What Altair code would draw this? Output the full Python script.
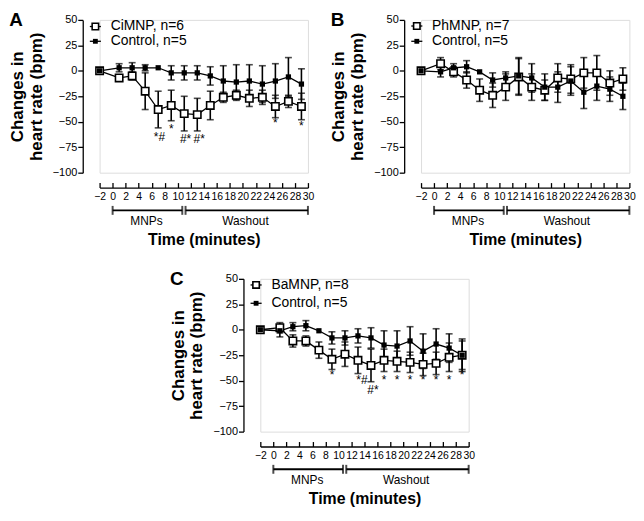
import altair as alt
import pandas as pd

FONT = "Liberation Sans"

TIME = [-2, 1, 3, 5, 7, 9, 11, 13, 15, 17, 19, 21, 23, 25, 27, 29]
X_TICKS = list(range(-2, 31, 2))
Y_TICKS = [-100, -75, -50, -25, 0, 25, 50]

CTRL_LABEL = "Control, n=5"

# Panel A
A_TREAT_LABEL = "CiMNP, n=6"
A_TREAT = [0, -7, -5, -20, -38, -34, -42, -43, -34, -26, -24, -27, -26, -35, -30, -35]
A_TREAT_ERR = [0, 3, 4, 18, 18, 15, 17, 16, 14, 5, 5, 8, 7, 11, 6, 13]
A_CTRL = [0, 3, 3, 3, 3, -2, -2, -2, -5, -10, -11, -10, -13, -10, -6, -13]
A_CTRL_ERR = [0, 4, 5, 3, 0, 7, 7, 7, 9, 15, 17, 16, 18, 17, 19, 15]
A_ANN_X = [7.2, 9, 11.2, 13.3, 25, 29]
A_ANN_Y = [-65, -57, -67, -67, -51, -54]
A_ANN_T = ["*#", "*", "#*", "#*", "*", "*"]
A_LEGEND_Y = [43.5, 29]

# Panel B
B_TREAT_LABEL = "PhMNP, n=7"
B_TREAT = [0, 7, -1, -9, -19, -24, -16, -6, -16, -19, -7, -8, -2, -2, -12, -8]
B_TREAT_ERR = [0, 6, 5, 8, 11, 12, 13, 18, 13, 10, 14, 14, 15, 17, 12, 11]
B_CTRL = [0, -1, 3, 4, -1, -9, -7, -5, -7, -16, -16, -10, -21, -15, -18, -25]
B_CTRL_ERR = [0, 5, 4, 6, 0, 7, 6, 18, 14, 13, 15, 14, 16, 14, 12, 13]
B_ANN_X = []
B_ANN_Y = []
B_ANN_T = []
B_LEGEND_Y = [44, 29]

# Panel C
C_TREAT_LABEL = "BaMNP, n=8"
C_TREAT = [0, 2, -11, -11, -20, -29, -24, -30, -35, -30, -31, -32, -34, -33, -27, -25]
C_TREAT_ERR = [0, 5, 6, 5, 8, 10, 12, 13, 16, 11, 10, 10, 11, 11, 14, 14]
C_CTRL = [0, -1, 3, 4, -1, -8, -8, -6, -8, -15, -16, -11, -21, -14, -18, -25]
C_CTRL_ERR = [0, 6, 4, 5, 0, 6, 7, 7, 10, 14, 15, 14, 17, 15, 14, 16]
C_ANN_X = [9, 13.6, 15.3, 17, 19, 21, 23, 25, 27, 29]
C_ANN_Y = [-44, -49, -59, -49, -49, -49, -49, -49, -49, -44]
C_ANN_T = ["*", "*#", "#*", "*", "*", "*", "*", "*", "*", "*"]
C_LEGEND_Y = [44, 26]

# Phase brackets below the time axis
PHASE_NAMES = ["MNPs", "Washout"]
PHASE_START = [0, 11.2]
PHASE_END = [10.7, 30]
PHASE_TEXT_X = [5.2, 20.4]
PHASE_BAR_Y = -137
PHASE_TEXT_Y = -147.7

# Legend glyph positions (data units)
LEG_LINE_X = [-3.5, -1.8]
LEG_SQ_X = -2.65
LEG_TEXT_X = -0.3

W, H = 210, 154

XSCALE = alt.Scale(domain=[-2, 30], nice=False, zero=False)
YSCALE = alt.Scale(domain=[-100, 50], nice=False, zero=False)

XAXIS = alt.Axis(
    values=X_TICKS, offset=15, tickSize=alt.ExprRef(expr="-5"), labelPadding=9,
    labelFontSize=10.5, labelFont=FONT, labelColor="black", labelFlush=False,
    labelOverlap=False, domainColor="black", tickColor="black", domainWidth=1.3,
    tickWidth=1.3, grid=False, title="Time (minutes)", titleFont=FONT,
    titleFontSize=16, titleFontWeight="bold", titleColor="black", titlePadding=30,
)
YAXIS = alt.Axis(
    values=Y_TICKS, offset=17, tickSize=5, labelPadding=1, labelFontSize=11, labelFont=FONT,
    labelColor="black", domainColor="black", tickColor="black", domainWidth=1.3,
    tickWidth=1.3, grid=False, title=["Changes in", "heart rate (bpm)"],
    titleFont=FONT, titleFontSize=17, titleFontWeight="bold", titleColor="black",
    titlePadding=7, titleLineHeight=19,
)


def X(field):
    return alt.X(field, type="quantitative", scale=XSCALE, axis=XAXIS)


def Y(field):
    return alt.Y(field, type="quantitative", scale=YSCALE, axis=YAXIS)


def panel(letter, treat_label, treat, treat_err, ctrl, ctrl_err, ann_x, ann_y, ann_t, legend_y):
    rows = []
    for g, vals, errs in (("treat", treat, treat_err), ("ctrl", ctrl, ctrl_err)):
        for t, v, e in zip(TIME, vals, errs):
            rows.append({"time": t, "value": v, "err": e, "lo": v - e, "hi": v + e, "group": g})
    df = pd.DataFrame(rows)

    errbars = alt.Chart(df).transform_filter("datum.err > 0").mark_errorbar(
        ticks=True, size=7, thickness=1.6, color="black"
    ).encode(x=X("time"), y=Y("lo"), y2="hi")

    lines = alt.Chart(df).mark_line(color="black", strokeWidth=1.3).encode(
        x=X("time"), y=Y("value"), detail="group:N"
    )
    open_sq = alt.Chart(df).transform_filter("datum.group == 'treat'").mark_square(
        fill="white", stroke="black", strokeWidth=1.6, size=55, opacity=1
    ).encode(x=X("time"), y=Y("value"))
    fill_sq = alt.Chart(df).transform_filter("datum.group == 'ctrl'").mark_square(
        color="black", size=28, opacity=1
    ).encode(x=X("time"), y=Y("value"))

    layers = [errbars, lines, open_sq, fill_sq]

    if ann_x:
        ann = pd.DataFrame({"x": ann_x, "y": ann_y, "t": ann_t})
        layers.append(
            alt.Chart(ann).mark_text(fontSize=12, font=FONT, color="black", baseline="middle").encode(
                x=X("x"), y=Y("y"), text="t:N"
            )
        )

    leg = pd.DataFrame({
        "x1": [LEG_LINE_X[0]] * 2, "x2": [LEG_LINE_X[1]] * 2, "xs": [LEG_SQ_X] * 2,
        "xt": [LEG_TEXT_X] * 2, "y": legend_y, "label": [treat_label, CTRL_LABEL],
        "group": ["treat", "ctrl"],
    })
    layers.append(alt.Chart(leg).mark_rule(color="black", strokeWidth=1.3).encode(
        x=X("x1"), x2="x2", y=Y("y")))
    layers.append(alt.Chart(leg).transform_filter("datum.group == 'treat'").mark_square(
        fill="white", stroke="black", strokeWidth=1.6, size=42, opacity=1).encode(x=X("xs"), y=Y("y")))
    layers.append(alt.Chart(leg).transform_filter("datum.group == 'ctrl'").mark_square(
        color="black", size=24, opacity=1).encode(x=X("xs"), y=Y("y")))
    layers.append(alt.Chart(leg).mark_text(
        fontSize=14, font=FONT, color="black", align="left", baseline="middle").encode(
        x=X("xt"), y=Y("y"), text="label:N"))

    ph = pd.DataFrame({"s": PHASE_START, "e": PHASE_END, "tx": PHASE_TEXT_X,
                       "name": PHASE_NAMES, "by": [PHASE_BAR_Y] * 2, "ty": [PHASE_TEXT_Y] * 2})
    layers.append(alt.Chart(ph).mark_errorbar(ticks=True, size=9, thickness=2, color="black").encode(
        x=X("s"), x2="e", y=Y("by")))
    layers.append(alt.Chart(ph).mark_text(fontSize=12, font=FONT, color="black", baseline="middle").encode(
        x=X("tx"), y=Y("ty"), text="name:N"))

    # panel letter
    layers.append(alt.Chart(pd.DataFrame({"letter": [letter]})).mark_text(
        fontSize=19, fontWeight="bold", font=FONT, color="black", align="left",
        baseline="alphabetic").encode(x=alt.value(-91), y=alt.value(6), text="letter:N"))

    return alt.layer(*layers).properties(width=W, height=H)


pa = panel("A", A_TREAT_LABEL, A_TREAT, A_TREAT_ERR, A_CTRL, A_CTRL_ERR, A_ANN_X, A_ANN_Y, A_ANN_T, A_LEGEND_Y)
pb = panel("B", B_TREAT_LABEL, B_TREAT, B_TREAT_ERR, B_CTRL, B_CTRL_ERR, B_ANN_X, B_ANN_Y, B_ANN_T, B_LEGEND_Y)
pc = panel("C", C_TREAT_LABEL, C_TREAT, C_TREAT_ERR, C_CTRL, C_CTRL_ERR, C_ANN_X, C_ANN_Y, C_ANN_T, C_LEGEND_Y)

top = alt.hconcat(pa, pb, spacing=14)
chart = alt.vconcat(top, pc, spacing=21, center=True).configure_view(stroke=None).configure(
    font=FONT, padding=0
)

chart.save("out.html", embed_options={"renderer": "svg", "actions": False})
